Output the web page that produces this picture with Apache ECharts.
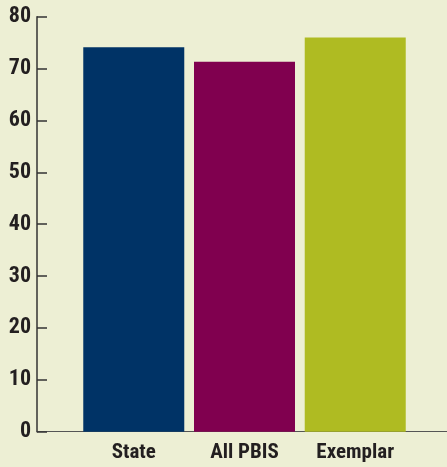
<!DOCTYPE html>
<html><head><meta charset="utf-8">
<script src="https://cdn.jsdelivr.net/npm/echarts@6/dist/echarts.min.js"></script>
<style>html,body{margin:0;padding:0;background:#edefd4;}#c{width:447px;height:467px;}</style>
</head><body><div id="c"></div>
<script>
const categories = ['State', 'All PBIS', 'Exemplar'];
const values = [74.1, 71.3, 76.0];
const barColors = ['#003366', '#80004f', '#afbb22'];
const yTicks = [0, 80, 10];

const font = "'Roboto Condensed', 'Liberation Sans Narrow', sans-serif";
const chart = echarts.init(document.getElementById('c'), null, {renderer: 'canvas'});
chart.setOption({
  backgroundColor: '#edefd4',
  animation: false,
  grid: [
    {left: 78.4, right: 36.4, top: 16.7, bottom: 35.3},
    {left: 37, right: 0, top: 16.7, bottom: 35.3}
  ],
  xAxis: [
    {type: 'category', gridIndex: 0, data: categories,
     axisLine: {show: false}, axisTick: {show: false},
     axisLabel: {interval: 0, color: '#231f20', fontFamily: font, fontWeight: 'bold', fontSize: 21, margin: 11}},
    {type: 'value', gridIndex: 1, min: 0, max: 1, position: 'bottom',
     axisLine: {show: true, lineStyle: {color: '#555', width: 1.2}},
     axisTick: {show: false}, axisLabel: {show: false}, splitLine: {show: false}}
  ],
  yAxis: [
    {type: 'value', gridIndex: 0, min: yTicks[0], max: yTicks[1], interval: yTicks[2], offset: 41.4,
     axisLine: {show: true, lineStyle: {color: '#333', width: 1.5}},
     axisTick: {show: true, inside: true, length: 10, lineStyle: {color: '#333', width: 1.5}},
     axisLabel: {color: '#231f20', fontFamily: font, fontWeight: 'bold', fontSize: 22, margin: 6},
     splitLine: {show: false}},
    {type: 'value', gridIndex: 1, show: false, min: 0, max: 1}
  ],
  series: [{
    type: 'bar', xAxisIndex: 0, yAxisIndex: 0, barWidth: 101,
    data: values.map((v, i) => ({value: v, itemStyle: {color: barColors[i]}}))
  }]
});
</script></body></html>
